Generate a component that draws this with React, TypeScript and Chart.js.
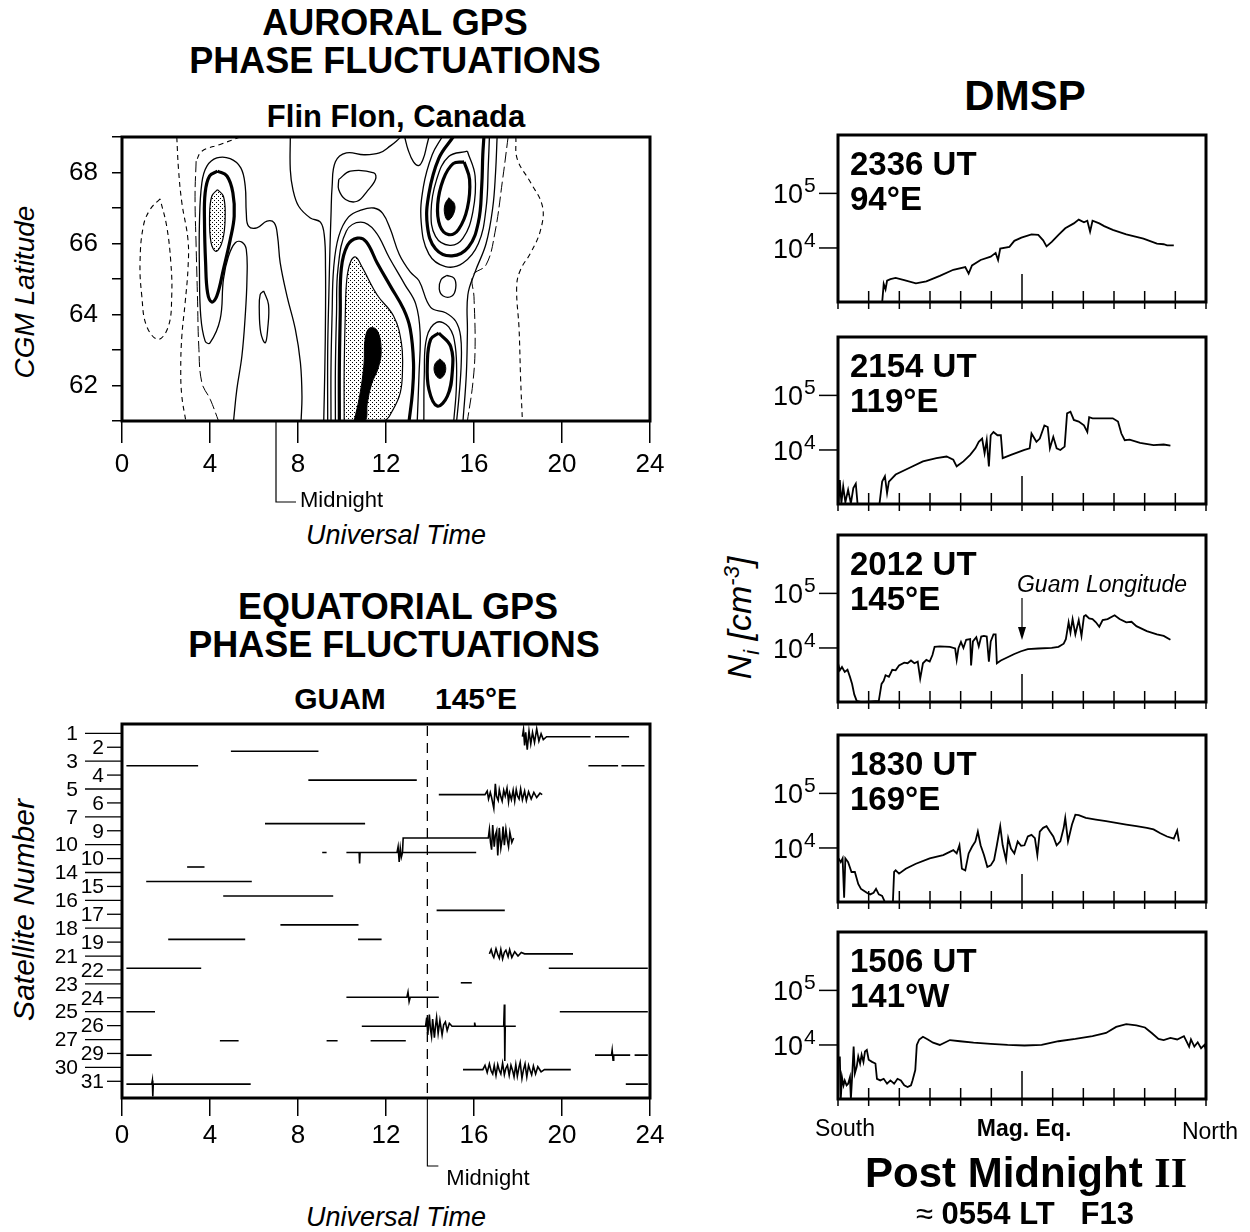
import React, { useEffect, useRef } from "react";
import { Chart, registerables } from "chart.js";
Chart.register(...registerables);

type P = [number, number];
const SANS = '"Liberation Sans", Arial, Helvetica, sans-serif';
const SERIF = '"Liberation Serif", "Times New Roman", serif';

// ================= AURORAL (Flin Flon) =================
const AUR_UT_TICKS = [0, 4, 8, 12, 16, 20, 24];
const AUR_LAT_MIN = 61;
const AUR_LAT_MAX = 69;
const AUR_LAT_LABELS = [62, 64, 66, 68];
const AUR_MIDNIGHT_UT = 7.0;

// contour lines: [UT hours, CGM latitude]
const CNT_DASH_OVAL: P[] = [[1.73,67.26],[1.28,66.96],[0.97,66.49],[0.82,65.46],[0.9,64.52],[1.12,63.67],[1.65,63.3],[2.11,63.67],[2.26,64.52],[2.22,65.46],[2.03,66.49],[1.73,67.26]];
const CNT_DASH_WEST: P[] = [[2.49,69],[2.57,68.08],[2.72,67.15],[3.0,66.1],[3.0,65.3],[2.87,64.33],[2.72,63.39],[2.67,62.45],[2.72,61.7],[2.9,61]];
const CNT_DASH_EAST: P[] = [[17.9,69],[17.97,68.37],[18.58,67.71],[19.11,67.05],[19.03,66.39],[18.58,65.74],[18.12,65.27],[17.94,64.8],[18.05,63.58],[18.12,62.17],[18.2,61]];
const CNT_LDASH_TOP: P[] = [[5.37,69],[4.46,68.79],[3.63,68.6],[3.37,68.32]];
const CNT_LDASH_WEST: P[] = [[3.37,68.32],[3.32,67.33],[3.37,65.92],[3.43,64.52],[3.49,63.11],[3.63,62.08],[4.01,61.61],[4.39,61]];
const CNT_LDASH_EAST: P[] = [[17.55,69],[17.3,67.8],[16.95,66.3],[16.55,65.4],[15.95,65.1],[16.0,64.5],[16.05,63.1],[15.95,62.08],[15.7,61]];
const CNT_WEST_OUTER: P[] = [[5.07,61],[5.22,61.89],[5.45,62.83],[5.6,63.95],[5.68,64.99],[5.65,65.83],[5.45,66.04],[5.15,66.02],[4.84,65.64],[4.61,64.99],[4.46,63.86],[4.0,63.2],[3.78,63.25],[3.58,63.95],[3.52,65.27],[3.52,66.58],[3.63,67.71],[3.86,68.18],[4.31,68.41],[4.92,68.39],[5.4,68.13],[5.6,67.62],[5.65,66.86],[5.75,66.49],[6.13,66.44],[6.59,66.63],[6.92,66.58],[7.07,66.21],[7.19,65.46],[7.5,64.52],[7.88,63.58],[8.11,62.64],[8.18,61.7],[8.14,61]];
const CNT_WEST_SMALL: P[] = [[6.44,64.66],[6.66,64.28],[6.62,63.58],[6.51,63.2],[6.31,63.48],[6.24,64.14],[6.28,64.56],[6.44,64.66]];
const CNT_WEST_THICK: P[] = [[4.34,68.04],[4.77,67.9],[5.04,67.43],[5.1,66.77],[4.92,66.11],[4.61,65.27],[4.31,64.52],[4.08,64.35],[3.89,64.61],[3.8,65.46],[3.75,66.58],[3.78,67.43],[3.98,67.9],[4.34,68.04]];
const CNT_WEST_STIPPLE: P[] = [[4.34,67.52],[4.61,67.33],[4.69,66.77],[4.58,66.11],[4.28,65.78],[4.05,66.02],[3.98,66.77],[4.08,67.33],[4.34,67.52]];
const CNT_DIP: P[] = [[7.65,69],[7.65,68.08],[7.77,67.52],[8.03,67.05],[8.56,66.72],[9.02,66.6],[9.2,66.2],[9.25,65.3],[9.25,64],[9.22,62.5],[9.17,61]];
const CNT_TOP_OVAL: P[] = [[9.85,67.8],[10.38,68.04],[11.45,67.99],[11.52,67.8],[11.14,67.47],[10.69,67.19],[10.16,67.24],[9.85,67.52],[9.85,67.8]];
const CNT_TOP_ARC: P[] = [[9.35,61],[9.35,63],[9.4,64.5],[9.45,65.8],[9.5,66.8],[9.55,67.6],[9.7,68.3],[10.2,68.55],[11.0,68.5],[11.7,68.55],[12.2,68.75],[12.5,68.9],[12.66,69]];
const CNT_TOP_V: P[] = [[12.85,69],[13.0,68.65],[13.25,68.3],[13.5,68.2],[13.7,68.4],[13.85,68.75],[13.95,69]];
const CNT_CORE_BLACK: P[] = [[10.55,61],[10.8,61.7],[11.0,62.6],[11.05,63.3],[11.25,63.62],[11.6,63.55],[11.78,63.0],[11.65,62.5],[11.35,62.05],[11.15,61.5],[11.05,61],[10.55,61]];
const CNT_CORE_STIPPLE: P[] = [[10.1,61],[10.1,62.5],[10.15,64.0],[10.22,65.0],[10.4,65.5],[10.62,65.62],[10.9,65.35],[11.6,64.55],[12.35,63.95],[12.7,63.2],[12.75,62.45],[12.65,61.8],[12.3,61.3],[11.9,61],[10.1,61]];
const CNT_CORE_THICK: P[] = [[9.88,61],[9.88,62.5],[9.92,64.0],[9.97,65.3],[10.25,65.95],[10.7,66.15],[11.1,66.05],[11.6,65.45],[12.2,64.8],[12.8,64.15],[13.1,63.6],[13.25,62.65],[13.2,61.8],[13.05,61]];
const CNT_CORE_THIN: P[] = [[9.7,61],[9.7,62.5],[9.75,64.0],[9.82,65.3],[10.2,66.35],[10.85,66.6],[11.5,66.35],[12.15,65.6],[12.85,64.85],[13.35,64.3],[13.55,63.5],[13.5,62.3],[13.42,61]];
const CNT_BAND: P[] = [[9.5,61],[9.5,62.5],[9.55,64.0],[9.62,65.3],[9.85,66.2],[10.3,66.75],[10.9,66.95],[11.45,67.0],[11.85,66.85],[12.2,66.4],[12.6,65.7],[13.1,65.2],[13.5,64.95],[14.03,64.2],[14.71,64.05],[15.17,63.81],[15.39,63.39],[15.42,62.64],[15.32,61.7],[15.21,61]];
const CNT_SOUTH_BLACK: P[] = [[14.45,62.75],[14.68,62.6],[14.68,62.35],[14.45,62.2],[14.22,62.35],[14.22,62.6],[14.45,62.75]];
const CNT_SOUTH_THICK: P[] = [[14.4,63.48],[14.94,63.1],[15.01,62.36],[14.79,61.7],[14.33,61.42],[13.95,61.89],[13.88,62.64],[14.03,63.3],[14.4,63.48]];
const CNT_SOUTH_THIN: P[] = [[13.72,61],[13.74,62.3],[13.85,63.35],[14.3,63.78],[14.85,63.65],[15.15,63.1],[15.2,62.0],[15.08,61]];
const CNT_NORTH_BLACK: P[] = [[14.86,67.29],[15.12,67.1],[15.06,66.82],[14.82,66.66],[14.67,66.82],[14.68,67.1],[14.86,67.29]];
const CNT_NORTH_THICK: P[] = [[15.55,68.3],[15.8,67.8],[15.7,67.0],[15.3,66.4],[14.85,66.25],[14.45,66.5],[14.35,67.1],[14.6,67.8],[15.05,68.25],[15.55,68.3]];
const CNT_NORTH_THIN: P[] = [[15.7,68.6],[16.05,67.9],[15.95,66.9],[15.5,66.15],[14.9,65.95],[14.25,66.2],[14.05,66.9],[14.3,67.8],[14.85,68.45],[15.7,68.6]];
const CNT_NORTH_OPEN_THICK: P[] = [[15.05,69],[14.4,68.4],[13.95,67.4],[13.88,66.5],[14.25,65.85],[15.0,65.65],[15.75,65.9],[16.2,66.6],[16.35,67.6],[16.4,68.5],[16.45,69]];
const CNT_NORTH_OPEN_THIN: P[] = [[14.55,69],[14.1,68.5],[13.7,67.6],[13.6,66.6],[13.95,65.7],[14.7,65.35],[15.5,65.45],[16.2,66.0],[16.55,67.0],[16.65,68.2],[16.7,69]];
const CNT_EAST_FLANK: P[] = [[17.05,69],[16.98,68],[16.85,67],[16.55,66.0],[16.05,65.2],[15.72,64.55],[15.7,63.5],[15.65,62.3],[15.5,61]];
const CNT_MID_SMALL: P[] = [[14.75,65.1],[15.1,65.02],[15.17,64.75],[15.0,64.52],[14.6,64.52],[14.42,64.72],[14.5,64.98],[14.75,65.1]];

// ================= EQUATORIAL (Guam) =================
const GUAM_UT_TICKS = [0, 4, 8, 12, 16, 20, 24];
const GUAM_MIDNIGHT_UT = 13.88;
const SAT_LABELS = ["1","2","3","4","5","6","7","9","10","10","14","15","16","17","18","19","21","22","23","24","25","26","27","29","30","31"];
// phase traces: [UT, offset in track units]; null = gap
type Q = P | null;
const SAT_T0: Q[] = [[18.2,0],[18.25,-0.5],[18.3,0.6],[18.35,-0.3],[18.42,0.9],[18.5,-0.4],[18.58,0.5],[18.66,-0.3],[18.75,0.4],[18.85,-0.55],[18.95,0.3],[19.05,-0.2],[19.15,0.2],[19.3,0],[21.3,0],null,[21.5,0],[23.05,0]];
const SAT_T1: Q[] = [[4.95,0],[8.93,0]];
const SAT_T2: Q[] = [[0.2,0],[3.46,0],null,[21.2,0],[22.55,0],null,[22.7,0],[23.75,0]];
const SAT_T3: Q[] = [[8.47,0],[13.4,0]];
const SAT_T4: Q[] = [[14.4,0],[16.5,0],[16.6,-0.25],[16.66,0.3],[16.74,-0.15],[16.8,0.2],[16.9,0.95],[16.97,-0.75],[17.02,0.1],[17.1,0.4],[17.15,-0.35],[17.22,0.15],[17.28,0.45],[17.35,-0.3],[17.42,0.1],[17.5,-0.45],[17.57,0.5],[17.62,-0.1],[17.7,0.35],[17.78,-0.3],[17.85,0.45],[17.92,-0.35],[17.98,0.1],[18.05,0.3],[18.12,-0.4],[18.2,0.35],[18.3,-0.25],[18.38,0.4],[18.48,-0.2],[18.6,0.3],[18.72,-0.15],[18.85,0.2],[19.0,-0.1],[19.1,0]];
const SAT_T5: Q[] = [];
const SAT_T6: Q[] = [[6.5,0],[11.05,0]];
const SAT_T7: Q[] = [[12.75,1],[12.78,0],[16.65,0],[16.7,-0.6],[16.75,0.3],[16.8,0.8],[16.85,-0.9],[16.92,0.6],[16.97,-0.2],[17.03,-0.5],[17.08,1.2],[17.15,-0.7],[17.22,0.7],[17.28,0.1],[17.32,-0.8],[17.38,0.5],[17.45,-0.6],[17.52,0.2],[17.57,0.6],[17.63,-0.4],[17.72,0.3],[17.8,0]];
const SAT_T8: Q[] = [[9.1,0],[9.3,0],null,[10.2,0],[10.78,0],[10.8,0.75],[10.82,0],[12.5,0],[12.55,-0.4],[12.6,0.65],[12.65,-0.3],[12.7,0.3],[12.75,0],[16.1,0]];
const SAT_T9: Q[] = [[2.96,0],[3.75,0]];
const SAT_T10: Q[] = [[1.1,0],[5.9,0]];
const SAT_T11: Q[] = [[4.6,0],[9.6,0]];
const SAT_T12: Q[] = [[14.3,0],[17.4,0]];
const SAT_T13: Q[] = [[7.2,0],[10.75,0]];
const SAT_T14: Q[] = [[2.1,0],[5.6,0],null,[10.73,0],[11.8,0]];
const SAT_T15: Q[] = [[16.7,0],[16.78,-0.3],[16.85,0.1],[16.9,0.25],[17.0,-0.35],[17.08,0.05],[17.15,0.3],[17.22,-0.3],[17.3,0.35],[17.38,-0.1],[17.45,-0.25],[17.55,0.2],[17.62,-0.3],[17.72,0.25],[17.85,-0.15],[18.0,0.15],[18.15,-0.1],[18.3,0],[20.5,0]];
const SAT_T16: Q[] = [[0.2,0],[3.6,0],null,[19.4,0],[23.9,0]];
const SAT_T17: Q[] = [[15.4,0],[15.9,0]];
const SAT_T18: Q[] = [[10.2,0],[12.95,0],[13.0,-0.35],[13.05,0.3],[13.1,0],[14.4,0]];
const SAT_T19: Q[] = [[0.2,0],[1.5,0],null,[19.9,0],[23.9,0]];
const SAT_T20: Q[] = [[10.9,0],[13.8,0],[13.85,-0.6],[13.9,0.6],[13.97,-0.8],[14.02,0.2],[14.07,0.7],[14.12,-0.5],[14.2,0.8],[14.25,0.0],[14.3,-0.6],[14.37,0.5],[14.45,-0.4],[14.55,0.6],[14.62,-0.1],[14.7,-0.3],[14.78,0.3],[14.88,-0.2],[15.0,0],[16.0,0],[16.03,-0.25],[16.06,0],[17.35,0],[17.38,-1.5],[17.4,2.4],[17.42,0],[17.9,0]];
const SAT_T21: Q[] = [[4.45,0],[5.3,0],null,[9.3,0],[9.8,0],null,[11.3,0],[12.9,0]];
const SAT_T22: Q[] = [[0.2,0],[1.35,0],null,[21.5,0],[22.25,0],[22.28,-0.35],[22.32,0.35],[22.35,0],[23.1,0],null,[23.3,0],[23.9,0]];
const SAT_T23: Q[] = [[15.5,0],[16.4,0],[16.5,-0.3],[16.6,0.2],[16.7,-0.4],[16.78,0.1],[16.85,0.3],[16.92,-0.3],[17.0,0.4],[17.08,-0.35],[17.15,0.05],[17.22,0.3],[17.3,-0.45],[17.38,0.35],[17.45,-0.1],[17.52,-0.3],[17.6,0.4],[17.68,-0.3],[17.76,0.1],[17.82,0.5],[17.9,-0.35],[17.97,0.45],[18.05,-0.2],[18.1,-0.5],[18.18,0.6],[18.25,0.0],[18.32,-0.4],[18.4,0.5],[18.48,-0.3],[18.56,0.1],[18.62,0.35],[18.7,-0.25],[18.8,0.3],[18.9,-0.2],[19.05,0.15],[19.2,0],[20.4,0]];
const SAT_T24: Q[] = [[0.2,0],[1.35,0],[1.38,-0.25],[1.4,0.85],[1.42,0],[5.85,0],null,[22.9,0],[23.9,0]];
const SAT_TRACKS = [SAT_T0,SAT_T1,SAT_T2,SAT_T3,SAT_T4,SAT_T5,SAT_T6,SAT_T7,SAT_T8,SAT_T9,SAT_T10,SAT_T11,SAT_T12,SAT_T13,SAT_T14,SAT_T15,SAT_T16,SAT_T17,SAT_T18,SAT_T19,SAT_T20,SAT_T21,SAT_T22,SAT_T23,SAT_T24];

// ================= DMSP =================
const DMSP_TIMES = ["2336 UT", "2154 UT", "2012 UT", "1830 UT", "1506 UT"];
const DMSP_LONS = ["94°E", "119°E", "145°E", "169°E", "141°W"];
const DMSP_X_TICKS = [-6,-5,-4,-3,-2,-1,0,1,2,3,4,5,6];
const DMSP_MAG_EQ = 0;
const DMSP_Y_TICKS = [1e4, 1e5];
const DMSP_Y_EXP = ["4", "5"];
const DMSP_Y_MIN = 1023;
const DMSP_Y_MAX = 1175000;
const GUAM_PANEL = 2;
const GUAM_ARROW_X = 0;
// [position South(-6) .. North(+6), Ni cm^-3]
const DMSP_2336: P[] = [[-4.56,1000],[-4.51,2190],[-4.45,1740],[-4.4,2510],[-4.29,2690],[-4.12,2820],[-3.84,2570],[-3.46,2240],[-3.12,2450],[-2.68,3090],[-2.24,3980],[-1.85,4470],[-1.74,3390],[-1.63,4790],[-1.35,6030],[-1.02,6920],[-0.86,8130],[-0.78,6030],[-0.71,9770],[-0.41,10500],[-0.25,13500],[-0.02,15500],[0.31,17800],[0.53,17400],[0.69,13800],[0.8,10700],[0.97,12900],[1.19,17400],[1.41,22900],[1.69,28200],[1.85,33100],[2.02,29500],[2.13,31600],[2.22,20000],[2.3,31600],[2.52,28200],[2.68,25100],[2.96,21400],[3.4,17800],[3.96,14800],[4.4,12000],[4.62,11700],[4.73,11200],[4.95,11200]];
const DMSP_2154: P[] = [[-5.98,1000],[-5.94,2820],[-5.89,1050],[-5.83,2140],[-5.76,1100],[-5.67,1860],[-5.58,1050],[-5.5,2000],[-5.42,2400],[-5.36,1000],[-4.65,1000],[-4.56,2630],[-4.47,3310],[-4.4,1620],[-4.34,2630],[-4.12,3550],[-3.68,4680],[-3.23,6170],[-2.79,7080],[-2.46,7590],[-2.24,6610],[-2.13,5010],[-1.91,6170],[-1.69,8130],[-1.52,10700],[-1.41,14100],[-1.3,16200],[-1.22,8710],[-1.15,15100],[-1.08,5010],[-1.02,18600],[-0.93,21400],[-0.8,18600],[-0.69,18600],[-0.63,7080],[-0.36,8130],[0.08,10000],[0.25,10700],[0.31,20000],[0.47,14100],[0.58,16200],[0.73,28200],[0.84,26300],[0.91,10700],[1.02,17400],[1.13,10700],[1.25,10000],[1.39,11500],[1.47,46800],[1.58,50100],[1.69,35500],[1.85,33100],[2.02,28200],[2.13,21400],[2.19,39800],[2.3,38000],[2.63,38000],[2.96,38000],[3.13,33100],[3.24,20000],[3.35,15100],[3.51,15500],[3.85,13500],[4.29,12300],[4.62,12600],[4.84,12000]];
const DMSP_2012: P[] = [[-6.0,5250],[-5.94,3890],[-5.87,4470],[-5.78,3630],[-5.69,3980],[-5.61,2950],[-5.54,2190],[-5.47,1410],[-5.39,1070],[-5.23,1020],[-4.67,1070],[-4.58,2190],[-4.51,2510],[-4.45,3160],[-4.34,2950],[-4.23,3980],[-4.12,3890],[-4.01,4790],[-3.84,5370],[-3.73,5250],[-3.62,5890],[-3.51,5250],[-3.4,5620],[-3.32,2750],[-3.23,5250],[-3.12,6030],[-3.01,5620],[-2.92,7410],[-2.85,10500],[-2.68,10700],[-2.35,10500],[-2.18,9770],[-2.13,6030],[-2.07,10000],[-1.99,12900],[-1.91,10000],[-1.82,14100],[-1.69,14500],[-1.66,4790],[-1.6,13200],[-1.49,15800],[-1.41,10700],[-1.33,16200],[-1.24,16600],[-1.15,16200],[-1.08,5620],[-1.02,13200],[-0.93,17800],[-0.86,17800],[-0.82,5250],[-0.69,5890],[-0.47,6760],[-0.25,7760],[-0.03,8710],[0.19,9550],[0.53,9770],[0.97,10000],[1.19,10500],[1.36,12000],[1.43,14500],[1.52,29500],[1.58,19100],[1.65,33900],[1.74,17800],[1.85,32400],[1.94,16600],[2.02,38000],[2.08,39800],[2.19,34700],[2.3,33900],[2.41,29500],[2.52,24500],[2.63,32400],[2.79,33900],[3.02,39800],[3.18,33900],[3.4,29500],[3.57,30200],[3.73,25100],[4.07,20400],[4.4,17800],[4.62,16600],[4.84,14100]];
const DMSP_1830: P[] = [[-5.98,6460],[-5.91,5500],[-5.85,6460],[-5.8,1230],[-5.76,6460],[-5.67,5500],[-5.56,3630],[-5.45,3630],[-5.34,2190],[-5.25,1780],[-5.17,1660],[-5.06,1510],[-4.95,1410],[-4.84,1510],[-4.76,1780],[-4.67,1410],[-4.56,1320],[-4.47,1020],[-4.21,1020],[-4.17,3630],[-4.12,3890],[-4.01,3390],[-3.79,4170],[-3.46,5130],[-3.01,6460],[-2.57,7410],[-2.24,9120],[-2.13,7940],[-2.04,11200],[-1.96,4170],[-1.85,3890],[-1.74,7940],[-1.63,10500],[-1.52,13200],[-1.44,20000],[-1.35,11200],[-1.24,7410],[-1.13,4470],[-1.02,4790],[-0.91,6030],[-0.82,11200],[-0.71,25100],[-0.63,11200],[-0.52,6030],[-0.45,15100],[-0.36,9770],[-0.25,7940],[-0.14,13200],[-0.03,11000],[0.08,11200],[0.19,16200],[0.31,17400],[0.42,15100],[0.5,7410],[0.58,20000],[0.69,23400],[0.8,25100],[0.91,20000],[1.02,16200],[1.13,11200],[1.25,13200],[1.36,23400],[1.41,35500],[1.5,13200],[1.63,26900],[1.74,40700],[1.85,39800],[2.08,35500],[2.41,33100],[2.74,30900],[3.07,28800],[3.4,26900],[3.73,25100],[4.07,23400],[4.29,21900],[4.51,18600],[4.73,16200],[4.95,14800],[5.06,20900],[5.12,13200]];
const DMSP_1506: P[] = [[-5.94,6170],[-5.91,1020],[-5.87,2570],[-5.82,1820],[-5.78,2240],[-5.72,1820],[-5.67,1950],[-5.61,2570],[-5.58,1020],[-5.54,2570],[-5.49,9330],[-5.45,3020],[-5.39,3980],[-5.34,6170],[-5.28,4570],[-5.23,6610],[-5.17,4900],[-5.12,7590],[-5.06,8130],[-5.0,5370],[-4.89,4900],[-4.78,4570],[-4.73,2400],[-4.62,2240],[-4.51,2400],[-4.4,1950],[-4.29,2240],[-4.17,1950],[-4.06,2400],[-3.95,2240],[-3.84,1820],[-3.73,1700],[-3.62,1820],[-3.57,2240],[-3.48,3470],[-3.43,10000],[-3.35,12600],[-3.23,14100],[-3.07,12600],[-2.9,11000],[-2.68,10000],[-2.35,12300],[-2.02,11700],[-1.58,11000],[-1.02,10500],[-0.47,10000],[0.08,9770],[0.64,10000],[1.19,11700],[1.74,12900],[2.3,14500],[2.74,16600],[3.07,21400],[3.4,24000],[3.73,22900],[4.01,20900],[4.23,16600],[4.45,12900],[4.62,12300],[4.84,13500],[5.06,12600],[5.28,14500],[5.45,9330],[5.51,12600],[5.62,9330],[5.73,11200],[5.84,8710],[5.95,10000],[6.0,8130]];
const DMSP_TRACES = [DMSP_2336, DMSP_2154, DMSP_2012, DMSP_1830, DMSP_1506];

// ---------- layout (pixels) ----------
const DMSP_PANEL_TOP = [135, 337, 535, 735, 932];
const DMSP_PANEL_H = 167;

// ---------- helpers ----------
function makeStipple(): CanvasPattern | string {
  const c = document.createElement("canvas");
  c.width = 4; c.height = 4;
  const g = c.getContext("2d");
  if (!g) return "#999";
  g.fillStyle = "#000";
  g.fillRect(0, 0, 1, 1);
  g.fillRect(2, 2, 1, 1);
  const p = g.createPattern(c, "repeat");
  return p || "#999";
}

const framePlugin = (lw: number) => ({
  id: "frame",
  afterDatasetsDraw(chart: any) {
    const { ctx, chartArea: a } = chart;
    ctx.save();
    ctx.strokeStyle = "#000";
    ctx.lineWidth = lw;
    ctx.setLineDash([]);
    ctx.strokeRect(a.left, a.top, a.right - a.left, a.bottom - a.top);
    ctx.restore();
  },
});

function ChartCanvas(props: { left: number; top: number; width: number; height: number; make: () => any }) {
  const ref = useRef<HTMLCanvasElement>(null);
  useEffect(() => {
    const chart = new Chart(ref.current as HTMLCanvasElement, props.make());
    return () => chart.destroy();
  }, []);
  return (
    <canvas
      ref={ref}
      width={props.width}
      height={props.height}
      style={{ position: "absolute", left: props.left, top: props.top, width: props.width, height: props.height }}
    />
  );
}

// ---------- Auroral chart ----------
function auroralConfig() {
  const stipple = makeStipple();
  const list: { pts: P[]; kind: string }[] = [
    { pts: CNT_CORE_BLACK, kind: "black" },
    { pts: CNT_SOUTH_BLACK, kind: "black" },
    { pts: CNT_NORTH_BLACK, kind: "black" },
    { pts: CNT_CORE_STIPPLE, kind: "stipple" },
    { pts: CNT_WEST_STIPPLE, kind: "stipple" },
    { pts: CNT_DASH_OVAL, kind: "dash" },
    { pts: CNT_DASH_WEST, kind: "dash" },
    { pts: CNT_DASH_EAST, kind: "dash" },
    { pts: CNT_LDASH_TOP, kind: "dash" },
    { pts: CNT_LDASH_WEST, kind: "ldash" },
    { pts: CNT_LDASH_EAST, kind: "ldash" },
    { pts: CNT_WEST_OUTER, kind: "thin" },
    { pts: CNT_WEST_SMALL, kind: "thin" },
    { pts: CNT_WEST_THICK, kind: "thick" },
    { pts: CNT_DIP, kind: "thin" },
    { pts: CNT_TOP_OVAL, kind: "thin" },
    { pts: CNT_TOP_ARC, kind: "thin" },
    { pts: CNT_TOP_V, kind: "thin" },
    { pts: CNT_CORE_THICK, kind: "thick" },
    { pts: CNT_CORE_THIN, kind: "thin" },
    { pts: CNT_BAND, kind: "thin" },
    { pts: CNT_SOUTH_THICK, kind: "thick" },
    { pts: CNT_SOUTH_THIN, kind: "thin" },
    { pts: CNT_NORTH_THICK, kind: "thick" },
    { pts: CNT_NORTH_THIN, kind: "thin" },
    { pts: CNT_NORTH_OPEN_THICK, kind: "thick" },
    { pts: CNT_NORTH_OPEN_THIN, kind: "thin" },
    { pts: CNT_EAST_FLANK, kind: "thin" },
    { pts: CNT_MID_SMALL, kind: "thin" },
  ];
  const datasets = list.map((c) => {
    const base: any = {
      data: c.pts.map(([x, y]) => ({ x, y })),
      showLine: true,
      pointRadius: 0,
      borderColor: "#000",
      tension: 0.4,
      fill: false,
      order: 2,
      borderDash: [],
      borderWidth: 1.3,
    };
    if (c.kind === "dash") { base.borderDash = [5, 4]; base.borderWidth = 1.1; }
    if (c.kind === "ldash") { base.borderDash = [11, 4]; base.borderWidth = 1.0; }
    if (c.kind === "thick") { base.borderWidth = 3.2; }
    if (c.kind === "stipple") { base.fill = "shape"; base.backgroundColor = stipple; base.borderWidth = 1.2; base.order = 1; }
    if (c.kind === "black") { base.fill = "shape"; base.backgroundColor = "#000"; base.borderWidth = 1; base.order = 0; }
    return base;
  });
  return {
    type: "scatter",
    data: { datasets },
    options: {
      animation: false,
      responsive: false,
      events: [],
      layout: { padding: { top: 7, right: 30, left: 0, bottom: 0 } },
      plugins: { legend: { display: false }, tooltip: { enabled: false } },
      scales: {
        x: {
          type: "linear",
          min: AUR_UT_TICKS[0],
          max: AUR_UT_TICKS[AUR_UT_TICKS.length - 1],
          afterFit: (s: any) => { s.height = 139; s.paddingLeft = 0; s.paddingRight = 0; },
          afterBuildTicks: (s: any) => { s.ticks = AUR_UT_TICKS.map((v) => ({ value: v })); },
          ticks: { font: { family: SANS, size: 26 }, color: "#000", padding: 6, maxRotation: 0, autoSkip: false },
          grid: { drawOnChartArea: false, tickLength: 22, color: "#000", lineWidth: 1.5 },
          border: { display: false },
        },
        y: {
          type: "linear",
          min: AUR_LAT_MIN,
          max: AUR_LAT_MAX,
          afterFit: (s: any) => { s.width = 122; s.paddingTop = 0; s.paddingBottom = 0; },
          ticks: {
            stepSize: 1,
            callback: (v: any) => (AUR_LAT_LABELS.includes(Number(v)) ? String(v) : ""),
            font: { family: SANS, size: 26 },
            color: "#000",
            padding: 14,
            autoSkip: false,
          },
          grid: { drawOnChartArea: false, tickLength: 10, color: "#000", lineWidth: 1.5 },
          border: { display: false },
        },
      },
    },
    plugins: [
      framePlugin(3),
      {
        id: "midnight",
        afterDraw(chart: any) {
          const { ctx, chartArea: a, scales } = chart;
          const x = scales.x.getPixelForValue(AUR_MIDNIGHT_UT);
          ctx.save();
          ctx.strokeStyle = "#000";
          ctx.lineWidth = 1.2;
          ctx.beginPath();
          ctx.moveTo(x, a.bottom);
          ctx.lineTo(x, a.bottom + 81);
          ctx.lineTo(x + 20, a.bottom + 81);
          ctx.stroke();
          ctx.fillStyle = "#000";
          ctx.font = `22px ${SANS}`;
          ctx.textBaseline = "alphabetic";
          ctx.fillText("Midnight", x + 24, a.bottom + 86);
          ctx.restore();
        },
      },
    ],
  };
}

// ---------- Guam chart ----------
function guamConfig() {
  const datasets = SAT_TRACKS.map((pts, t) => {
    const data: any[] = [];
    let lastX = 0;
    pts.forEach((p) => {
      if (p) { data.push({ x: p[0], y: t + p[1] }); lastX = p[0]; }
      else data.push({ x: lastX + 0.01, y: null });
    });
    return {
      data,
      showLine: true,
      pointRadius: 0,
      borderColor: "#000",
      borderWidth: 1.6,
      tension: 0,
      spanGaps: false,
      yAxisID: "yT",
    };
  });
  return {
    type: "scatter",
    data: { datasets },
    options: {
      animation: false,
      responsive: false,
      events: [],
      layout: { padding: { top: 9, right: 30, left: 122, bottom: 0 } },
      plugins: { legend: { display: false }, tooltip: { enabled: false } },
      scales: {
        x: {
          type: "linear",
          min: GUAM_UT_TICKS[0],
          max: GUAM_UT_TICKS[GUAM_UT_TICKS.length - 1],
          afterFit: (s: any) => { s.height = 134; s.paddingLeft = 0; s.paddingRight = 0; },
          afterBuildTicks: (s: any) => { s.ticks = GUAM_UT_TICKS.map((v) => ({ value: v })); },
          ticks: { font: { family: SANS, size: 26 }, color: "#000", padding: 4, maxRotation: 0, autoSkip: false },
          grid: { drawOnChartArea: false, tickLength: 18, color: "#000", lineWidth: 1.5 },
          border: { display: false },
        },
        y: { type: "linear", display: false, min: -0.67, max: SAT_LABELS.length + 0.2, reverse: true },
        yT: { type: "linear", display: false, min: -0.88, max: SAT_TRACKS.length - 0.04, reverse: true },
      },
    },
    plugins: [
      framePlugin(3),
      {
        id: "satlabels",
        afterDraw(chart: any) {
          const { ctx, chartArea: a, scales } = chart;
          ctx.save();
          ctx.strokeStyle = "#000";
          ctx.fillStyle = "#000";
          ctx.lineWidth = 1.3;
          ctx.font = `21px ${SANS}`;
          ctx.textAlign = "right";
          ctx.textBaseline = "middle";
          SAT_LABELS.forEach((lab, i) => {
            const y = scales.y.getPixelForValue(i);
            const outer = i % 2 === 0;
            const x0 = outer ? a.left - 37 : a.left - 15;
            ctx.beginPath();
            ctx.moveTo(x0, y);
            ctx.lineTo(a.left, y);
            ctx.stroke();
            ctx.fillText(lab, outer ? a.left - 44 : a.left - 18, y + 1);
          });
          // midnight marker
          const x = scales.x.getPixelForValue(GUAM_MIDNIGHT_UT);
          ctx.lineWidth = 1.3;
          ctx.setLineDash([10, 7]);
          ctx.beginPath();
          ctx.moveTo(x, a.top + 2);
          ctx.lineTo(x, a.bottom);
          ctx.stroke();
          ctx.setLineDash([]);
          ctx.lineWidth = 1.1;
          ctx.beginPath();
          ctx.moveTo(x, a.bottom);
          ctx.lineTo(x, a.bottom + 68);
          ctx.lineTo(x + 11, a.bottom + 68);
          ctx.stroke();
          ctx.textAlign = "left";
          ctx.textBaseline = "alphabetic";
          ctx.font = `22px ${SANS}`;
          ctx.fillText("Midnight", x + 19, a.bottom + 87);
          ctx.restore();
        },
      },
    ],
  };
}

// ---------- DMSP panels ----------
function dmspConfig(k: number) {
  return {
    type: "scatter",
    data: {
      datasets: [
        {
          data: DMSP_TRACES[k].map(([x, y]) => ({ x, y })),
          showLine: true,
          pointRadius: 0,
          borderColor: "#000",
          borderWidth: 1.8,
          tension: 0,
        },
      ],
    },
    options: {
      animation: false,
      responsive: false,
      events: [],
      layout: { padding: { top: 10, right: 44, left: 78, bottom: 20 } },
      plugins: { legend: { display: false }, tooltip: { enabled: false } },
      scales: {
        x: { type: "linear", display: false, min: DMSP_X_TICKS[0], max: DMSP_X_TICKS[DMSP_X_TICKS.length - 1] },
        y: { type: "logarithmic", display: false, min: DMSP_Y_MIN, max: DMSP_Y_MAX },
      },
    },
    plugins: [
      framePlugin(3),
      {
        id: "dmspdeco",
        afterDraw(chart: any) {
          const { ctx, chartArea: a, scales } = chart;
          ctx.save();
          ctx.strokeStyle = "#000";
          ctx.fillStyle = "#000";
          ctx.lineWidth = 1.5;
          DMSP_X_TICKS.forEach((v) => {
            const x = scales.x.getPixelForValue(v);
            const up = v === DMSP_MAG_EQ ? 28 : 11;
            ctx.beginPath();
            ctx.moveTo(x, a.bottom - up);
            ctx.lineTo(x, a.bottom + 7);
            ctx.stroke();
          });
          DMSP_Y_TICKS.forEach((v, i) => {
            const y = scales.y.getPixelForValue(v);
            ctx.beginPath();
            ctx.moveTo(a.left - 19, y);
            ctx.lineTo(a.left, y);
            ctx.stroke();
            ctx.textBaseline = "alphabetic";
            ctx.textAlign = "right";
            ctx.font = `27px ${SANS}`;
            ctx.fillText("10", a.left - 35, y + 10);
            ctx.textAlign = "left";
            ctx.font = `21px ${SANS}`;
            ctx.fillText(DMSP_Y_EXP[i], a.left - 34, y - 1);
          });
          ctx.textAlign = "left";
          ctx.font = `bold 33px ${SANS}`;
          ctx.fillText(DMSP_TIMES[k], a.left + 12, a.top + 40);
          ctx.fillText(DMSP_LONS[k], a.left + 12, a.top + 75);
          if (k === GUAM_PANEL) {
            const x = scales.x.getPixelForValue(GUAM_ARROW_X);
            ctx.lineWidth = 1.2;
            ctx.beginPath();
            ctx.moveTo(x, a.top + 63);
            ctx.lineTo(x, a.top + 98);
            ctx.stroke();
            ctx.beginPath();
            ctx.moveTo(x - 4, a.top + 92);
            ctx.lineTo(x, a.top + 105);
            ctx.lineTo(x + 4, a.top + 92);
            ctx.closePath();
            ctx.fill();
            ctx.font = `italic 23px ${SANS}`;
            ctx.textAlign = "center";
            ctx.fillText("Guam Longitude", x + 80, a.top + 57);
          }
          ctx.restore();
        },
      },
    ],
  };
}

// ---------- text helpers ----------
function T(props: { x: number; y: number; size: number; bold?: boolean; italic?: boolean; rotate?: boolean; children: any }) {
  return (
    <div
      style={{
        position: "absolute",
        left: props.x,
        top: props.y,
        transform: `translate(-50%, -50%)${props.rotate ? " rotate(-90deg)" : ""}`,
        fontFamily: SANS,
        fontSize: props.size,
        fontWeight: props.bold ? "bold" : "normal",
        fontStyle: props.italic ? "italic" : "normal",
        lineHeight: 1,
        whiteSpace: "nowrap",
        color: "#000",
      }}
    >
      {props.children}
    </div>
  );
}

export default function App() {
  return (
    <div style={{ position: "absolute", left: 0, top: 0, width: 1250, height: 1232, background: "#fff", overflow: "hidden" }}>
      <T x={395} y={23} size={36} bold>AURORAL GPS</T>
      <T x={395} y={61} size={36} bold>PHASE FLUCTUATIONS</T>
      <T x={396} y={116} size={31} bold>Flin Flon, Canada</T>
      <T x={25} y={292} size={28} italic rotate>CGM Latitude</T>
      <T x={396} y={535} size={27} italic>Universal Time</T>
      <ChartCanvas left={0} top={130} width={680} height={430} make={auroralConfig} />

      <T x={398} y={607} size={36} bold>EQUATORIAL GPS</T>
      <T x={394} y={645} size={36} bold>PHASE FLUCTUATIONS</T>
      <T x={340} y={699} size={30} bold>GUAM</T>
      <T x={476} y={699} size={30} bold>145°E</T>
      <T x={24} y={910} size={30} italic rotate>Satellite Number</T>
      <T x={396} y={1217} size={27} italic>Universal Time</T>
      <ChartCanvas left={0} top={715} width={680} height={517} make={guamConfig} />

      <T x={1025} y={96} size={42} bold>DMSP</T>
      <T x={742} y={618} size={34} italic rotate>
        N<sub style={{ fontSize: 22 }}>i</sub> [cm<sup style={{ fontSize: 22 }}>-3</sup>]
      </T>
      {DMSP_PANEL_TOP.map((top, k) => (
        <ChartCanvas key={k} left={760} top={top - 10} width={490} height={DMSP_PANEL_H + 30} make={() => dmspConfig(k)} />
      ))}
      <T x={845} y={1128} size={23}>South</T>
      <T x={1024} y={1128} size={23} bold>Mag. Eq.</T>
      <T x={1210} y={1131} size={23}>North</T>
      <T x={1026} y={1173} size={42} bold>
        Post Midnight <span style={{ fontFamily: SERIF }}>II</span>
      </T>
      <T x={1025} y={1213} size={31} bold>
        <span style={{ fontWeight: "normal" }}>≈</span> 0554 LT&nbsp;&nbsp;&nbsp;F13
      </T>
    </div>
  );
}
